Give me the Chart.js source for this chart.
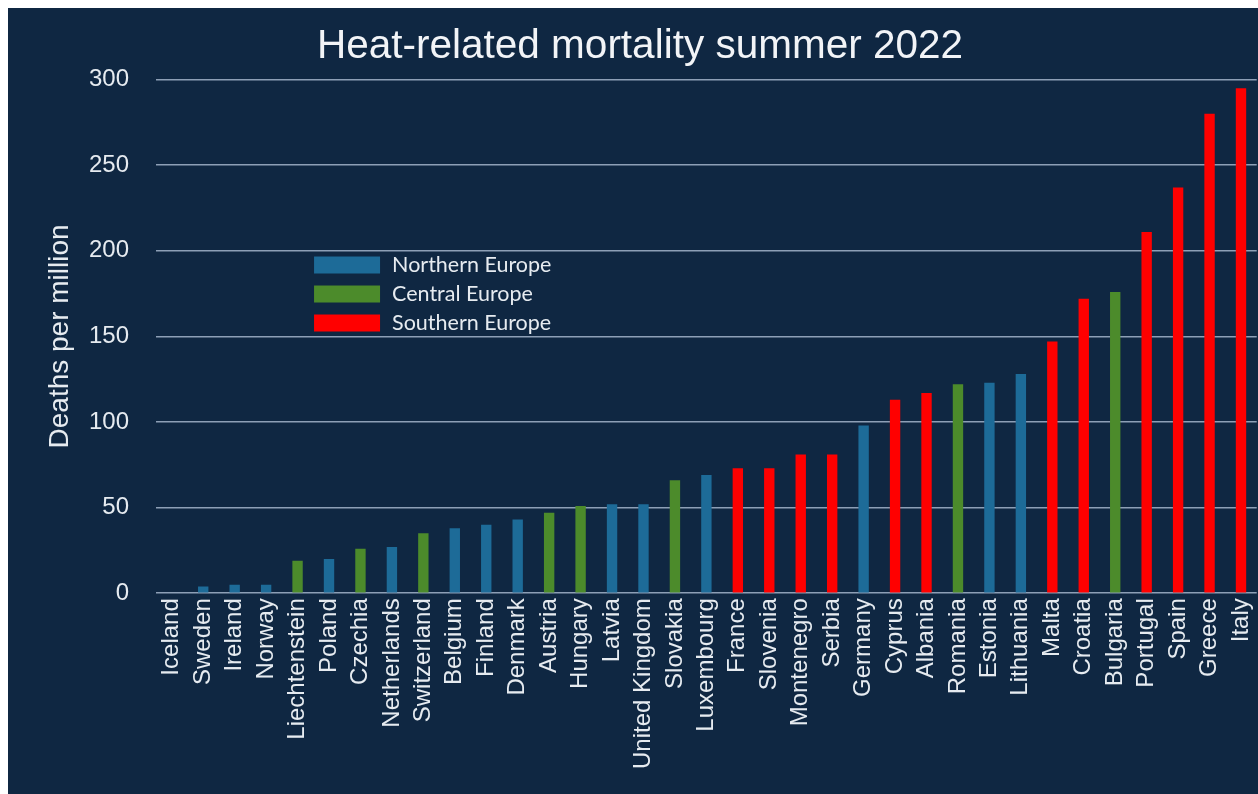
<!DOCTYPE html>
<html>
<head>
<meta charset="utf-8">
<script src="https://cdn.jsdelivr.net/npm/chart.js@4/dist/chart.umd.min.js"></script>
<style>
  html, body { margin: 0; padding: 0; background: #ffffff; }
  #panel {
    position: absolute; left: 8px; top: 8px;
    width: 1250px; height: 786px;
    background: #0f2742;
  }
</style>
</head>
<body>
<div id="panel"><canvas id="heatChart"></canvas></div>
<script>
// ===============================
// Data
// ===============================
const countries = ["Iceland", "Sweden", "Ireland", "Norway", "Liechtenstein", "Poland", "Czechia",
  "Netherlands", "Switzerland", "Belgium", "Finland", "Denmark", "Austria", "Hungary", "Latvia",
  "United Kingdom", "Slovakia", "Luxembourg", "France", "Slovenia", "Montenegro", "Serbia",
  "Germany", "Cyprus", "Albania", "Romania", "Estonia", "Lithuania", "Malta", "Croatia",
  "Bulgaria", "Portugal", "Spain", "Greece", "Italy"];
const deaths = [0.5, 4, 5, 5, 19, 20, 26, 27, 35, 38, 40, 43, 47, 51, 52, 52, 66, 69, 73, 73,
  81, 81, 98, 113, 117, 122, 123, 128, 147, 172, 176, 211, 237, 280, 295];
const regions = ["N", "N", "N", "N", "C", "N", "C", "N", "C", "N", "N", "N", "C", "C", "N",
  "N", "C", "N", "S", "S", "S", "S", "N", "S", "S", "C", "N", "N", "S", "S",
  "C", "S", "S", "S", "S"];
const regionNames = { N: "Northern Europe", C: "Central Europe", S: "Southern Europe" };
const regionColors = { N: "#1d6b98", C: "#4c8b2b", S: "#ff0000" };
const yTicks = [0, 50, 100, 150, 200, 250, 300];

// one dataset per region, stacked on x so bars stay centred
const datasets = Object.keys(regionNames).map(function (key) {
  return {
    label: regionNames[key],
    data: deaths.map(function (v, i) { return regions[i] === key ? v : null; }),
    backgroundColor: regionColors[key],
    barPercentage: 0.33,
    categoryPercentage: 1.0
  };
});

// ===============================
// Legend drawn inside the plot
// ===============================
const insideLegend = {
  id: "insideLegend",
  afterDraw(chart) {
    const ctx = chart.ctx;
    const x0 = chart.chartArea.left + 158;
    const y0 = chart.scales.y.getPixelForValue(192);
    ctx.save();
    ctx.font = "21.5px Lato, 'Open Sans', sans-serif";
    ctx.textBaseline = "middle";
    chart.data.datasets.forEach(function (ds, i) {
      const y = y0 + i * 29;
      ctx.fillStyle = ds.backgroundColor;
      ctx.fillRect(x0, y - 8, 66, 17);
      ctx.fillStyle = "#e6ebf0";
      ctx.fillText(ds.label, x0 + 78, y + 1);
    });
    ctx.restore();
  }
};

// ===============================
// Chart
// ===============================
const font = "'Liberation Sans', Arial, sans-serif";
const ctx = document.getElementById("heatChart");
new Chart(ctx, {
  type: "bar",
  data: { labels: countries, datasets: datasets },
  plugins: [insideLegend],
  options: {
    responsive: true,
    maintainAspectRatio: false,
    animation: false,
    layout: { padding: { top: 15, right: 0, bottom: 20, left: 14 } },
    plugins: {
      legend: { display: false },
      tooltip: { enabled: false },
      title: {
        display: true,
        text: "Heat-related mortality summer 2022",
        color: "#f2f4f7",
        font: { family: font, size: 40.5, weight: "normal" },
        padding: { top: 0, bottom: 8 }
      }
    },
    scales: {
      x: {
        stacked: true,
        grid: { display: false, drawTicks: false },
        border: { display: false },
        ticks: {
          color: "#e6ebf0",
          minRotation: 90,
          maxRotation: 90,
          autoSkip: false,
          padding: 5,
          font: { family: font, size: 24, lineHeight: 0.5 }
        }
      },
      y: {
        min: 0,
        max: 300,
        afterBuildTicks(axis) {
          axis.ticks = yTicks.map(function (v) { return { value: v }; });
        },
        grid: { color: "#8d9fb6", lineWidth: 1.5, drawTicks: false },
        border: { display: false },
        ticks: {
          color: "#e6ebf0",
          padding: 27,
          font: { family: font, size: 24 }
        },
        title: {
          display: true,
          text: "Deaths per million",
          color: "#e6ebf0",
          padding: { top: 24, bottom: -12 },
          font: { family: font, size: 28, lineHeight: 1 }
        }
      }
    }
  }
});
</script>
</body>
</html>
